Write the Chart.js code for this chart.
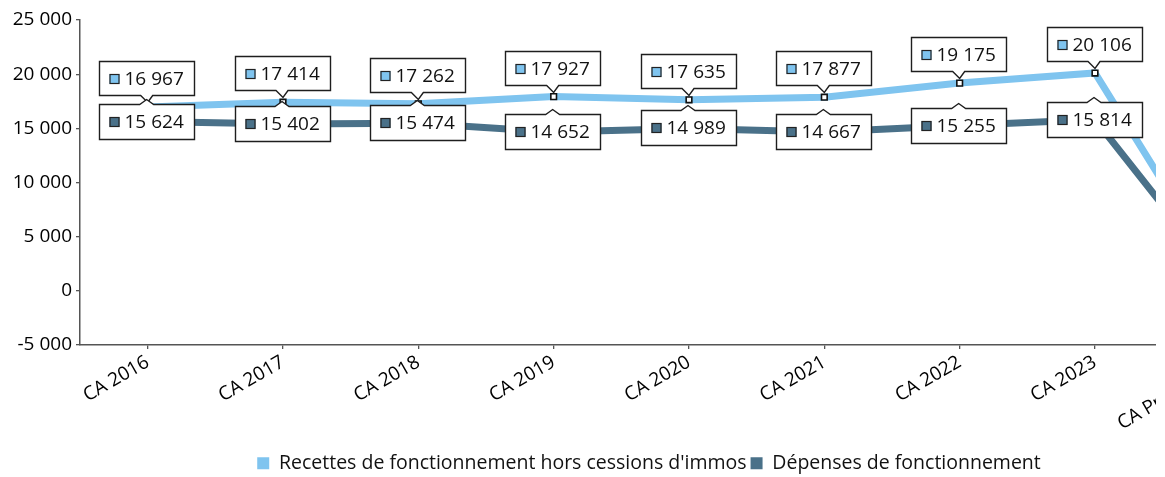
<!DOCTYPE html>
<html lang="fr">
<head>
<meta charset="utf-8">
<title>Recettes et dépenses de fonctionnement</title>
<script src="https://cdn.jsdelivr.net/npm/chart.js@4.4.1/dist/chart.umd.min.js"></script>
<style>
  html, body { margin: 0; padding: 0; background: #ffffff; overflow: hidden; }
  #frame { width: 1156px; height: 477px; overflow: hidden; position: relative; background: #fff; }
  #wrap { width: 1305px; height: 477px; position: absolute; left: 0; top: 0; }
</style>
</head>
<body>
<div id="frame"><div id="wrap"><canvas id="c" width="1305" height="477"></canvas></div></div>
<script>
// Exercices (comptes administratifs)
const categories = ['CA 2016', 'CA 2017', 'CA 2018', 'CA 2019', 'CA 2020', 'CA 2021', 'CA 2022', 'CA 2023', 'CA Prévu 2024'];
// Recettes de fonctionnement hors cessions d'immobilisations
const recettes = [16967, 17414, 17262, 17927, 17635, 17877, 19175, 20106, 0];
// Dépenses de fonctionnement
const depenses = [15624, 15402, 15474, 14652, 14989, 14667, 15255, 15814, 0];
// Graduations de l'axe des valeurs
const yTicks = [-5000, 0, 5000, 10000, 15000, 20000, 25000];

const seriesNames = ["Recettes de fonctionnement hors cessions d'immos", 'Dépenses de fonctionnement'];
const lightBlue = '#7fc4ef';
const darkBlue = '#4a7189';
const FONT = "'Open Sans', 'DejaVu Sans', sans-serif";

// Séparateur de milliers à la française (espace)
const fmt = v => String(Math.round(v)).replace(/\B(?=(\d{3})+(?!\d))/g, ' ');

// Étiquettes de valeur en forme de bulle, avec une petite pointe
const calloutPlugin = {
  id: 'callouts',
  afterDatasetsDraw(chart) {
    const ctx = chart.ctx;
    ctx.save();
    ctx.font = '19px ' + FONT;
    chart.data.datasets.forEach((ds, di) => {
      const meta = chart.getDatasetMeta(di);
      meta.data.forEach((pt, i) => {
        const text = fmt(ds.data[i]);
        const tw = ctx.measureText(text).width;
        const w = Math.round(tw + 36), h = 34;
        const cx = pt.x - 1;
        const left = Math.round(cx - w / 2) + 0.5, right = left + w;
        let top, bottom;
        ctx.beginPath();
        if (di === 0) {
          bottom = Math.round(pt.y - 12) + 0.5;
          top = bottom - h;
          ctx.moveTo(left, top);
          ctx.lineTo(right, top);
          ctx.lineTo(right, bottom);
          ctx.lineTo(cx + 6, bottom);
          ctx.lineTo(cx + 1, bottom + 7);
          ctx.lineTo(cx - 6, bottom);
          ctx.lineTo(left, bottom);
          ctx.closePath();
        } else {
          top = Math.round(pt.y - h / 2 - 1) + 0.5;
          bottom = top + h + 1;
          ctx.moveTo(left, top);
          ctx.lineTo(cx - 7, top);
          ctx.lineTo(cx, top - 5);
          ctx.lineTo(cx + 7, top);
          ctx.lineTo(right, top);
          ctx.lineTo(right, bottom);
          ctx.lineTo(left, bottom);
          ctx.closePath();
        }
        ctx.fillStyle = '#ffffff';
        ctx.fill();
        ctx.lineWidth = 1.4;
        ctx.strokeStyle = '#1e1e1e';
        ctx.stroke();
        // pastille de couleur de la série
        const my = (top + bottom) / 2;
        ctx.fillStyle = ds.borderColor;
        ctx.fillRect(left + 10, Math.round(my - 5), 10, 10);
        ctx.lineWidth = 1.2;
        ctx.strokeStyle = '#222';
        ctx.strokeRect(left + 10.5, Math.round(my - 5) + 0.5, 9, 9);
        ctx.fillStyle = '#111';
        ctx.textBaseline = 'middle';
        ctx.textAlign = 'left';
        ctx.fillText(text, left + 25, my + 1);
      });
    });
    ctx.restore();
  }
};

new Chart(document.getElementById('c'), {
  type: 'line',
  data: {
    labels: categories,
    datasets: [
      {
        label: seriesNames[0],
        data: recettes,
        borderColor: lightBlue,
        backgroundColor: lightBlue,
        borderWidth: 7,
        tension: 0,
        pointStyle: 'rect',
        pointRadius: 4,
        pointBackgroundColor: '#ffffff',
        pointBorderColor: '#111111',
        pointBorderWidth: 1.6,
        order: 1
      },
      {
        label: seriesNames[1],
        data: depenses,
        borderColor: darkBlue,
        backgroundColor: darkBlue,
        borderWidth: 7,
        tension: 0,
        pointRadius: 0,
        order: 2
      }
    ]
  },
  options: {
    responsive: false,
    animation: false,
    devicePixelRatio: 1,
    layout: { padding: { top: 20, right: 7, left: 0, bottom: -6 } },
    plugins: {
      tooltip: { enabled: false },
      legend: {
        position: 'bottom',
        labels: {
          boxWidth: 12,
          boxHeight: 12,
          padding: 4,
          color: '#111',
          font: { family: FONT, size: 19.5 },
          generateLabels(chart) {
            return chart.data.datasets.map((ds, i) => ({
              text: ds.label,
              fillStyle: ds.borderColor,
              strokeStyle: ds.borderColor,
              lineWidth: 0,
              hidden: false,
              datasetIndex: i,
              fontColor: '#111'
            }));
          }
        }
      }
    },
    scales: {
      x: {
        offset: true,
        grid: { display: true, drawOnChartArea: false, offset: false, tickLength: 4, color: '#555', lineWidth: 1.3 },
        border: { display: true, color: '#555', width: 1.5 },
        ticks: {
          autoSkip: false,
          minRotation: 30,
          maxRotation: 30,
          padding: 2,
          color: '#000',
          font: { family: FONT, size: 19 }
        },
        afterFit(scale) { scale.height = 104.5; }
      },
      y: {
        min: yTicks[0],
        max: yTicks[yTicks.length - 1],
        afterBuildTicks(scale) { scale.ticks = yTicks.map(v => ({ value: v })); },
        grid: { display: true, drawOnChartArea: false, tickLength: 4, color: '#555', lineWidth: 1.3 },
        border: { display: true, color: '#555', width: 1.5 },
        ticks: {
          padding: 4,
          color: '#000',
          font: { family: FONT, size: 19 },
          callback: v => fmt(v)
        },
        afterFit(scale) { scale.width = 80; }
      }
    }
  },
  plugins: [calloutPlugin]
});
</script>
</body>
</html>
